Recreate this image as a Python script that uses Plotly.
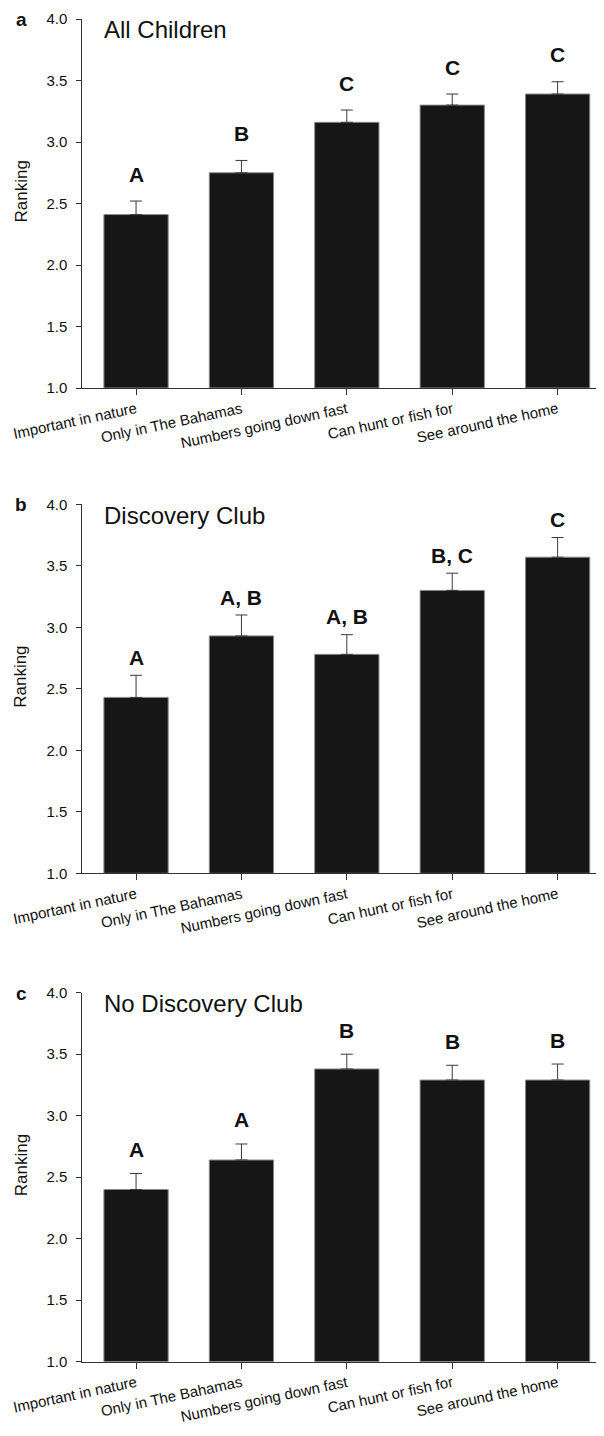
import plotly.graph_objects as go

categories = ["Important in nature", "Only in The Bahamas", "Numbers going down fast",
              "Can hunt or fish for", "See around the home"]
panel_letters = ["a", "b", "c"]
panel_titles = ["All Children", "Discovery Club", "No Discovery Club"]

means_a = [2.41, 2.75, 3.16, 3.30, 3.39]
se_a = [0.11, 0.10, 0.10, 0.09, 0.10]
sig_a = ["A", "B", "C", "C", "C"]

means_b = [2.43, 2.93, 2.78, 3.30, 3.57]
se_b = [0.18, 0.17, 0.16, 0.14, 0.16]
sig_b = ["A", "A, B", "A, B", "B, C", "C"]

means_c = [2.40, 2.64, 3.38, 3.29, 3.29]
se_c = [0.13, 0.13, 0.12, 0.12, 0.13]
sig_c = ["A", "A", "B", "B", "B"]

y_ticks = [1.0, 1.5, 2.0, 2.5, 3.0, 3.5, 4.0]
y_title = "Ranking"

# page body has an 8px margin; figure is sized/offset so it fills the 604x1436 window
OFF = 8
W, H = 604 - OFF, 1436 - OFF
FONT = "Liberation Sans, Arial, sans-serif"


def px_x(p):
    return (p - OFF) / W


def px_y(p):
    return 1 - (p - OFF) / H


panels = [
    (means_a, se_a, sig_a, 19.0, 388.0, 27),
    (means_b, se_b, sig_b, 504.3, 873.3, 18),
    (means_c, se_c, sig_c, 992.7, 1361.7, 24),
]

x_left_px, x_right_px = 82.3, 604.0
xpos = list(range(len(categories)))

fig = go.Figure()
annotations = []
layout_axes = {}

for i, (means, se, sig, top_px, bot_px, shift) in enumerate(panels):
    n = i + 1
    xa = "x" if n == 1 else f"x{n}"
    ya = "y" if n == 1 else f"y{n}"
    fig.add_trace(go.Bar(
        x=xpos, y=[m - 1.0 for m in means], base=1.0,
        width=0.61,
        marker=dict(color="#161616", line=dict(color="#8a8a8a", width=1)),
        error_y=dict(type="data", array=se, arrayminus=[0] * len(se), symmetric=False,
                     color="#3a3a3a", thickness=1, width=6),
        xaxis=xa, yaxis=ya, showlegend=False, hoverinfo="skip",
    ))
    xkey = "xaxis" if n == 1 else f"xaxis{n}"
    ykey = "yaxis" if n == 1 else f"yaxis{n}"
    layout_axes[xkey] = dict(
        domain=[px_x(x_left_px), min(1.0, px_x(x_right_px))],
        anchor=ya, range=[-0.51, 4.44], automargin=False,
        tickvals=xpos, ticktext=categories, tickangle=-12,
        ticks="outside", ticklen=6, tickcolor="#333", tickwidth=1,
        showline=True, linecolor="#333", linewidth=1,
        showgrid=False, zeroline=False,
        tickfont=dict(family=FONT, size=15, color="#111"),
    )
    layout_axes[ykey] = dict(
        domain=[px_y(bot_px), px_y(top_px)],
        anchor=xa, range=[1.0, 4.0], automargin=False,
        tickvals=y_ticks, ticktext=[f"{v:.1f}" for v in y_ticks],
        ticks="outside", ticklen=5, tickcolor="#333", tickwidth=1,
        showline=True, linecolor="#333", linewidth=1,
        showgrid=False, zeroline=False, ticklabelstandoff=6,
        tickfont=dict(family=FONT, size=15, color="#111"),
    )
    # significance letters
    for j, (m, s, t) in enumerate(zip(means, se, sig)):
        annotations.append(dict(
            x=xpos[j], y=m + s, xref=xa, yref=ya, text=f"<b>{t}</b>",
            showarrow=False, yshift=shift, yanchor="middle",
            font=dict(family=FONT, size=21, color="#111"),
        ))
    # panel title
    annotations.append(dict(
        x=px_x(102), y=px_y(top_px + 11), xref="paper", yref="paper",
        text=panel_titles[i], showarrow=False, xanchor="left", yanchor="middle",
        font=dict(family=FONT, size=24, color="#111"),
    ))
    # panel letter
    annotations.append(dict(
        x=px_x(21), y=px_y(top_px + 0.5), xref="paper", yref="paper",
        text=f"<b>{panel_letters[i]}</b>", showarrow=False, xanchor="center", yanchor="middle",
        font=dict(family=FONT, size=19, color="#111"),
    ))
    # y axis title
    annotations.append(dict(
        x=px_x(21), y=px_y((top_px + bot_px) / 2 - 12), xref="paper", yref="paper",
        text=y_title, showarrow=False, textangle=-90, xanchor="center", yanchor="middle",
        font=dict(family=FONT, size=17, color="#111"),
    ))

fig.update_layout(
    template="none",
    width=W, height=H,
    margin=dict(l=0, r=0, t=0, b=0, autoexpand=False),
    paper_bgcolor="white", plot_bgcolor="white",
    annotations=annotations,
    **layout_axes,
)

fig.write_html("out.html")
